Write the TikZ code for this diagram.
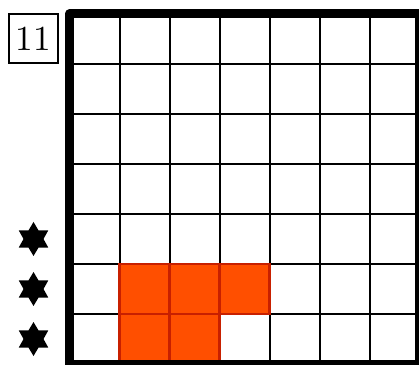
\documentclass[tikz,border=0pt]{standalone}
\usepackage{graphicx}
\usetikzlibrary{calc}
\definecolor{cellfill}{HTML}{FF4F00}
\definecolor{celledge}{HTML}{C82000}
\tikzset{
  gridline/.style={line width=0.04cm, black},
  filled/.style={fill=cellfill, draw=celledge, line width=0.05cm},
  frame/.style={line width=0.18cm, black, line join=round},
  labelbox/.style={draw, line width=0.025cm, minimum width=0.98cm, minimum height=0.98cm, inner sep=0pt},
  starshape/.style={fill=black}
}
\begin{document}
\begin{tikzpicture}
\useasboundingbox (-1.39,0) rectangle (6.99,7.28);
\clip (-1.39,0) rectangle (6.99,7.28);
% grid
\draw[gridline] (0,0) grid (7,7);
% filled cells
\foreach \x/\y in {1/1,2/1,3/1,1/0,2/0}
  \draw[filled] (\x,\y) rectangle ++(1,1);
% frame
\draw[frame] (0,0) rectangle (7,7);
% label
\node[labelbox] (lab) at (-0.72,6.51) {\scalebox{2}{11}};
% stars
\foreach \cy in {0.5,1.5,2.5}{
  \fill[starshape] ($(-0.72,\cy)+(90:0.34)$)
    \foreach \k in {1,...,11}{ -- ($(-0.72,\cy)+({90+30*\k}:{mod(\k,2)==1 ? 0.2 : 0.34})$) } -- cycle;
}
\end{tikzpicture}
\end{document}
